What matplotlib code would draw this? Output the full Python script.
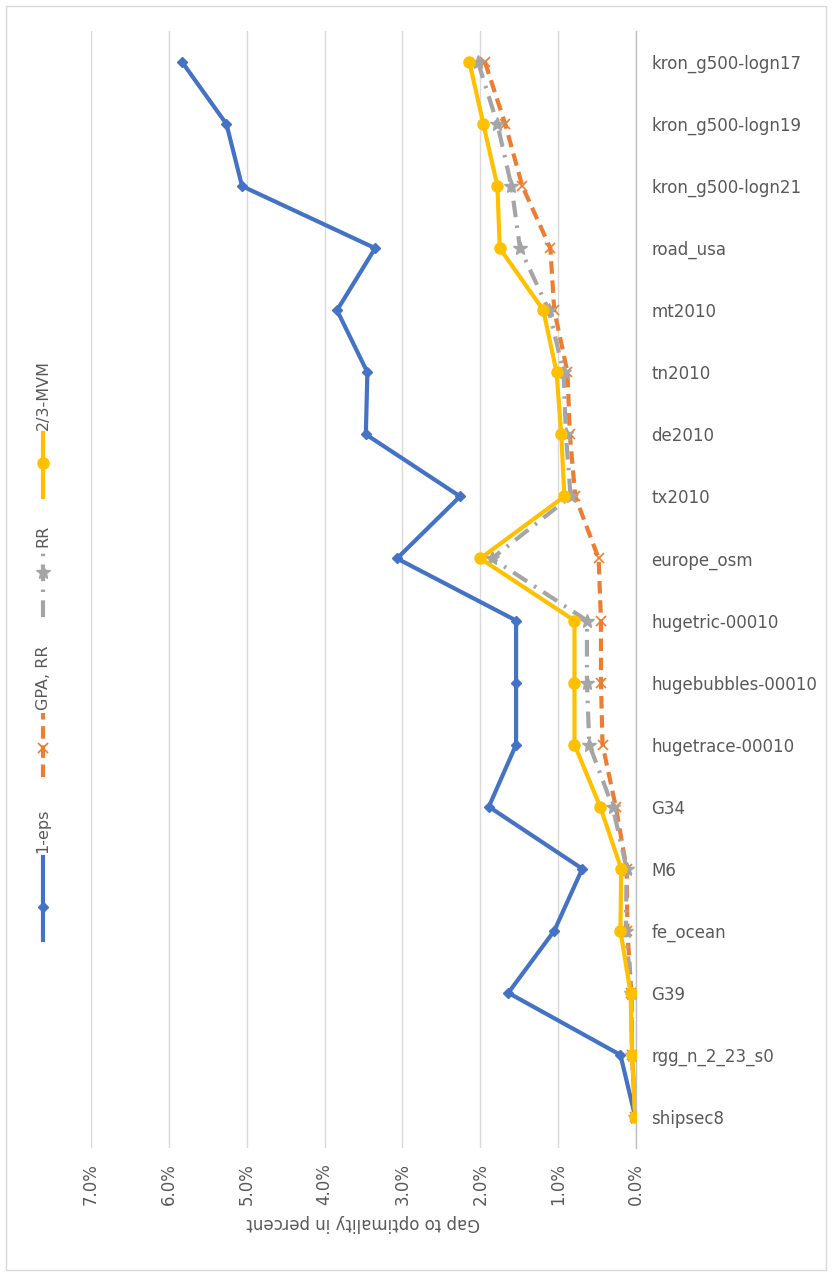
import matplotlib
matplotlib.use("Agg")
import matplotlib.pyplot as plt
from matplotlib.lines import Line2D
from matplotlib.patches import Rectangle

categories = ["kron_g500-logn17", "kron_g500-logn19", "kron_g500-logn21", "road_usa",
              "mt2010", "tn2010", "de2010", "tx2010", "europe_osm", "hugetric-00010",
              "hugebubbles-00010", "hugetrace-00010", "G34", "M6", "fe_ocean", "G39",
              "rgg_n_2_23_s0", "shipsec8"]
eps = [5.83, 5.26, 5.06, 3.35, 3.84, 3.45, 3.47, 2.26, 3.07, 1.54, 1.54, 1.54,
       1.89, 0.69, 1.05, 1.64, 0.20, 0.01]
gpa_rr = [1.94, 1.68, 1.46, 1.10, 1.05, 0.88, 0.85, 0.78, 0.48, 0.45, 0.45, 0.43,
          0.26, 0.12, 0.11, 0.06, 0.05, 0.01]
rr = [2.03, 1.78, 1.60, 1.49, 1.12, 0.93, 0.90, 0.84, 1.85, 0.63, 0.63, 0.60,
      0.30, 0.12, 0.13, 0.06, 0.05, 0.01]
mvm = [2.14, 1.96, 1.78, 1.75, 1.19, 1.02, 0.96, 0.92, 2.00, 0.79, 0.79, 0.79,
       0.46, 0.19, 0.20, 0.07, 0.05, 0.01]
xticks = [0, 1, 2, 3, 4, 5, 6, 7]
series_names = ["1-eps", "GPA, RR", "RR", "2/3-MVM"]

W, H = 832, 1276
fig = plt.figure(figsize=(W / 100, H / 100), dpi=100)
fig.patch.set_facecolor("white")

def fx(px):
    return px / W

def fy(py):
    return 1 - py / H

FONT = "DejaVu Sans"
TXT = "#595959"
BLUE, ORANGE, GRAY, YELLOW = "#4472C4", "#ED7D31", "#A5A5A5", "#FFC000"

# chart border
fig.add_artist(Rectangle((fx(6), fy(1270)), fx(826) - fx(6), fy(6) - fy(1270),
                         transform=fig.transFigure, fill=False, edgecolor="#D9D9D9", lw=1))

left, right, top, bottom = 91, 636, 31, 1148
ax = fig.add_axes([fx(left), fy(bottom), fx(right) - fx(left), fy(top) - fy(bottom)])
ypos = list(range(len(categories)))

ax.plot(eps, ypos, color=BLUE, lw=3, marker="D", ms=5, zorder=3, solid_joinstyle="miter")
ax.plot(gpa_rr, ypos, color=ORANGE, lw=3, ls=(0, (3, 1.6)), marker="x", ms=7, mew=1.2, zorder=4)
ax.plot(rr, ypos, color=GRAY, lw=3, ls=(0, (4, 2, 0.6, 2)), marker="*", ms=10, zorder=5)
ax.plot(mvm, ypos, color=YELLOW, lw=3, marker="o", ms=8, zorder=6)

ax.set_xlim(7, 0)
ax.set_ylim(len(categories) - 0.5, -0.5)
ax.set_xticks(xticks)
ax.set_xticklabels([f"{v:.1f}%" for v in xticks], rotation=90, fontsize=12,
                   color=TXT, family=FONT)
ax.set_yticks(ypos)
ax.set_yticklabels(categories, fontsize=12, color=TXT, family=FONT)
ax.yaxis.tick_right()
ax.tick_params(axis="both", length=0)
ax.tick_params(axis="x", pad=11)
ax.tick_params(axis="y", pad=11)
ax.grid(axis="x", color="#D9D9D9", lw=1)
ax.set_axisbelow(True)
for s in ["top", "bottom", "left"]:
    ax.spines[s].set_visible(False)
ax.spines["right"].set_color("#BFBFBF")
ax.spines["right"].set_linewidth(1)
ax.set_facecolor("none")

fig.text(fx((left + right) / 2), fy(1223), "Gap to optimality in percent", rotation=180,
         ha="center", va="center", fontsize=12, color=TXT, family=FONT)

# legend (rotated)
lx = 43
legend_items = [
    (series_names[0], BLUE, "-", "D", 5, 857, 940, 907, 853),
    (series_names[1], ORANGE, (0, (3, 1.6)), "x", 7, 713, 777, 748, 710),
    (series_names[2], GRAY, (0, (4, 2, 0.6, 2)), "*", 10, 550, 617, 572, 547),
    (series_names[3], YELLOW, "-", "o", 8, 433, 497, 463, 430),
]
for name, col, ls, mk, ms, y0, y1, ym, yt in legend_items:
    fig.add_artist(Line2D([fx(lx), fx(lx)], [fy(y1), fy(y0)], transform=fig.transFigure,
                          color=col, lw=3, ls=ls))
    fig.add_artist(Line2D([fx(lx)], [fy(ym)], transform=fig.transFigure, color=col,
                          marker=mk, ms=ms, mew=1.2 if mk == "x" else 1, ls="none"))
    fig.text(fx(lx), fy(yt), name, rotation=90, ha="center", va="bottom",
             fontsize=11.5, color=TXT, family=FONT)

fig.savefig("out.png", dpi=100, facecolor="white")
